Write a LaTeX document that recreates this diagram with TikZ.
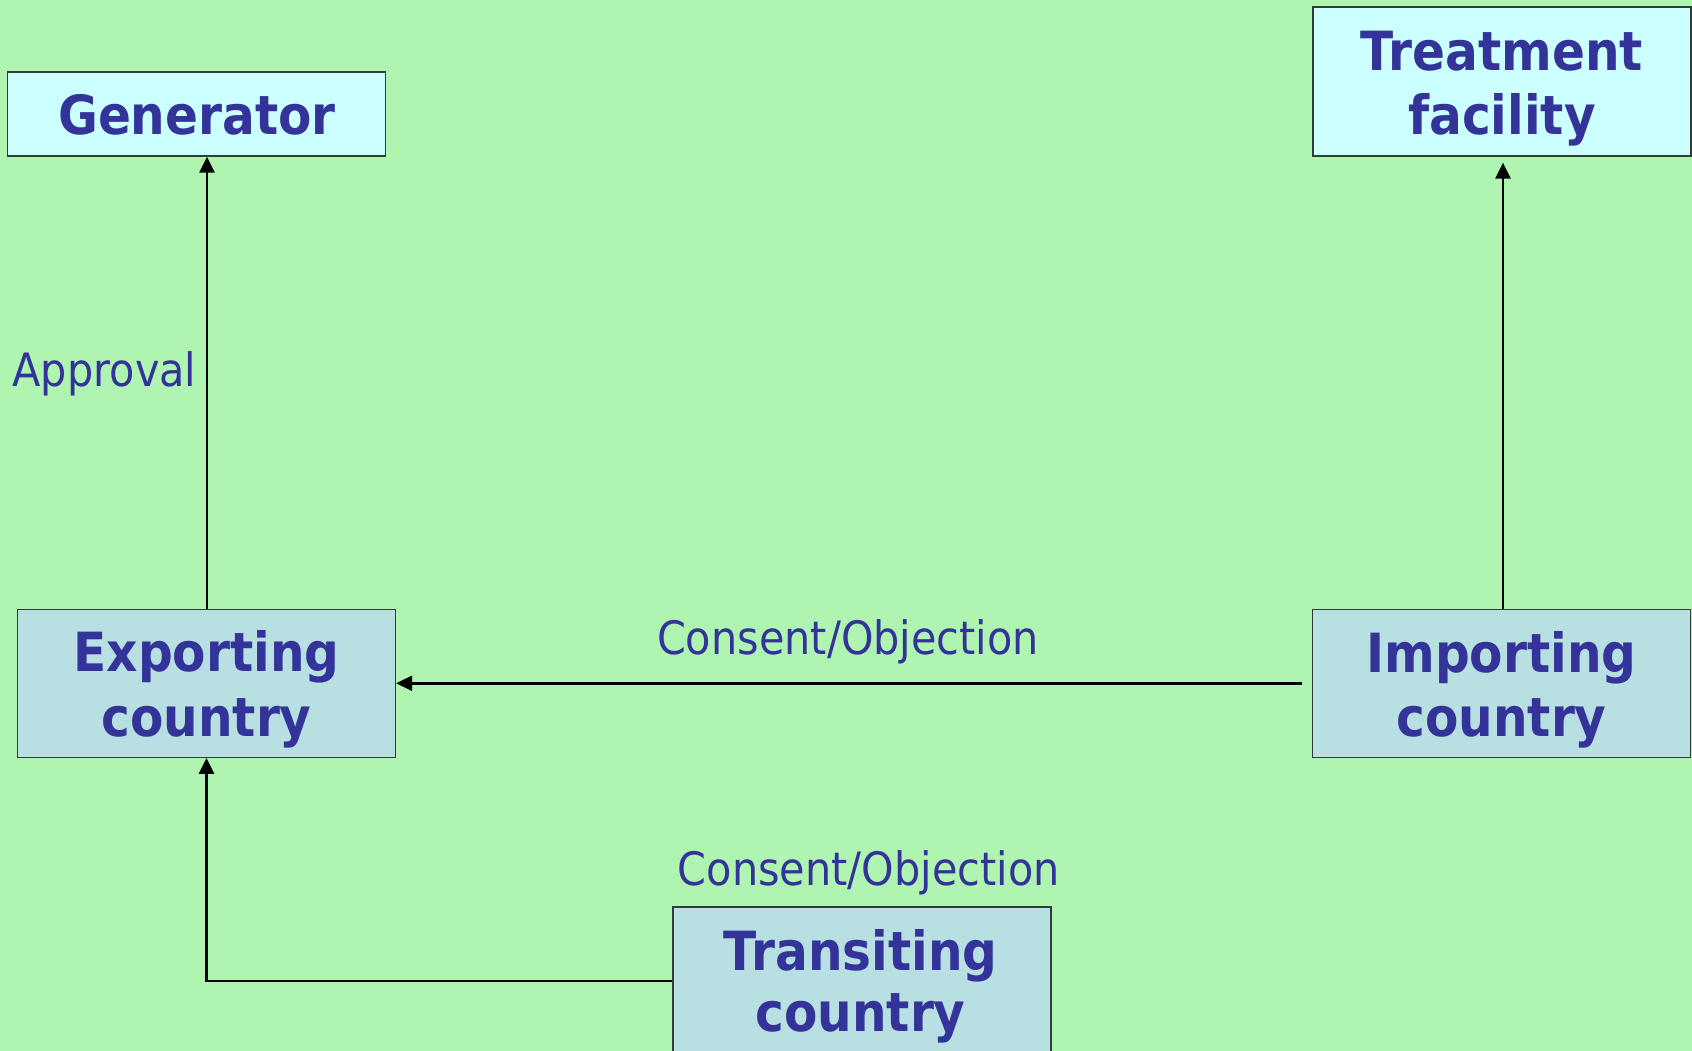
\documentclass[tikz,border=0pt]{standalone}
\usepackage{fontspec}
\setmainfont{DejaVu Sans}[FakeStretch=0.9]
\usetikzlibrary{arrows.meta}
\definecolor{bg}{RGB}{175,245,177}
\definecolor{lightcyan}{RGB}{204,255,255}
\definecolor{countrybox}{RGB}{184,224,226}
\definecolor{txt}{RGB}{51,51,153}
\definecolor{edge}{RGB}{50,60,55}
\tikzset{
  boxstyle/.style={draw=edge, line width=1.3pt, inner sep=0pt, minimum width=378pt},
  facbox/.style={boxstyle, fill=lightcyan},
  ctrbox/.style={boxstyle, fill=countrybox},
  boxtext/.style={anchor=base, inner sep=0pt, text=txt, font=\fontsize{54}{60}\selectfont\bfseries},
  lbl/.style={anchor=base, inner sep=0pt, text=txt, font=\fontsize{46}{52}\selectfont},
  conn/.style={line width=2.5pt, -{Triangle[length=16pt,width=15pt]}}
}
\begin{document}
\begin{tikzpicture}[x=1pt,y=-1pt]
\fill[bg] (0,0) rectangle (1692,1051);
\useasboundingbox (0,0) rectangle (1692,1051);
% boxes
\node[facbox, minimum height=84pt] (gen) at (196.5,114) {};
\node[facbox, minimum height=149pt] (trt) at (1502,81.5) {};
\node[ctrbox, minimum height=148pt] (exp) at (206.5,683.3) {};
\node[ctrbox, minimum height=148pt] (imp) at (1501.5,683.3) {};
\node[ctrbox, minimum height=155pt] (trn) at (862,984.5) {};
% box texts
\node[boxtext] (gen-t) at (197,135) {Generator};
\node[boxtext] (trt-t1) at (1502,70.7) {Treatment};
\node[boxtext] (trt-t2) at (1502,135) {facility};
\node[boxtext] (exp-t1) at (206.5,671.7) {Exporting};
\node[boxtext] (exp-t2) at (206.5,736.7) {country};
\node[boxtext] (imp-t1) at (1501.5,672.3) {Importing};
\node[boxtext] (imp-t2) at (1501.5,736.7) {country};
\node[boxtext] (trn-t1) at (860.5,970.7) {Transiting};
\node[boxtext] (trn-t2) at (860.5,1031.7) {country};
% labels
\node[lbl] (approval) at (104.5,386.7) {Approval};
\node[lbl] (consent1) at (848,654) {Consent/Objection};
\node[lbl] (consent2) at (868.7,885) {Consent/Objection};
% connectors
\draw[conn] ([xshift=0.5pt]exp.north) -- ([xshift=0.5pt]exp.north |- gen.south);
\draw[conn, shorten >=6pt] ([xshift=1.5pt]imp.north) -- ([xshift=1.5pt]imp.north |- trt.south);
\draw[conn, shorten <=10pt] (imp.west) -- (exp.east);
\draw[conn] ([yshift=3.5pt]trn.west) -| (exp.south);
\end{tikzpicture}
\end{document}
